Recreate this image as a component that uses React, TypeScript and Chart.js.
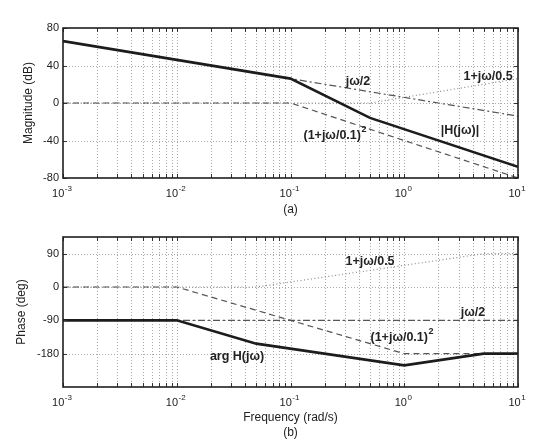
import React, { useEffect, useRef } from "react";
import { Chart, registerables } from "chart.js";

Chart.register(...registerables);

const FONT = '"Liberation Sans", Arial, Helvetica, sans-serif';
const INK = "#222";

// Frequency axis: decades shown, and minor log steps within each decade
const decades = [-3, -2, -1, 0, 1];
const minorSteps = [1, 2, 3, 4, 5, 6, 7, 8, 9];

// Magnitude asymptotes (dB)
const magTotalW = [0.001, 0.1, 0.5, 10];
const magTotalDb = [66, 26, -15.9, -68];
const magIntW = [0.001, 10];
const magIntDb = [66, -14];
const magPoleW = [0.001, 0.1, 10];
const magPoleDb = [0, 0, -80];
const magZeroW = [0.001, 0.5, 10];
const magZeroDb = [0, 0, 26];

// Phase asymptotes (deg)
const phTotalW = [0.001, 0.01, 0.05, 1, 5, 10];
const phTotalDeg = [-90, -90, -152.9, -211.5, -180, -180];
const phIntW = [0.001, 10];
const phIntDeg = [-90, -90];
const phPoleW = [0.001, 0.01, 1, 10];
const phPoleDeg = [0, 0, -180, -180];
const phZeroW = [0.001, 0.05, 5, 10];
const phZeroDeg = [0, 0, 90, 90];

// Y tick labels
const magTicks = [-80, -40, 0, 40, 80];
const phaseTicks = [-180, -90, 0, 90];

type Note = { text: string; sup?: string; w: number; v: number };

const magNotes: Note[] = [
  { text: "jω/2", w: 0.392, v: 22.4 },
  { text: "1+jω/0.5", w: 5.45, v: 27.7 },
  { text: "(1+jω/0.1)", sup: "2", w: 0.246, v: -35.2 },
  { text: "|H(jω)|", w: 3.09, v: -29.9 },
];

const phaseNotes: Note[] = [
  { text: "1+jω/0.5", w: 0.5, v: 67.5 },
  { text: "jω/2", w: 4.02, v: -70.2 },
  { text: "(1+jω/0.1)", sup: "2", w: 0.955, v: -137.7 },
  { text: "arg H(jω)", w: 0.0339, v: -189 },
];

const xGridValues: number[] = [];
decades.forEach((d) => {
  if (d === decades[decades.length - 1]) {
    xGridValues.push(Math.pow(10, d));
  } else {
    minorSteps.forEach((m) => xGridValues.push(Number((m * Math.pow(10, d)).toPrecision(3))));
  }
});

const pts = (w: number[], v: number[]) => w.map((x, i) => ({ x, y: v[i] }));

const solid = { borderColor: "#1c1c1c", borderWidth: 2.6, borderDash: [] as number[] };
const dashed = { borderColor: "#555", borderWidth: 1.2, borderDash: [6, 4] };
const dashDot = { borderColor: "#555", borderWidth: 1.2, borderDash: [7, 3, 2, 3] };
const dotted = { borderColor: "#8a8a8a", borderWidth: 1.2, borderDash: [1, 2.5] };

type Panel = {
  id: string;
  width: number;
  height: number;
  padTop: number;
  xAxisHeight: number;
  yMin: number;
  yMax: number;
  yTicks: number[];
  yTitle: string;
  yTitleX: number;
  captions: { text: string; y: number }[];
  notes: Note[];
  series: { w: number[]; v: number[]; style: any }[];
};

function drawSupText(
  ctx: CanvasRenderingContext2D,
  base: string,
  sup: string | undefined,
  cx: number,
  cy: number,
  baseFont: string,
  supFont: string,
  rise: number
) {
  ctx.font = baseFont;
  const bw = ctx.measureText(base).width;
  let sw = 0;
  if (sup) {
    ctx.font = supFont;
    sw = ctx.measureText(sup).width + 0.5;
  }
  const x0 = cx - (bw + sw) / 2;
  ctx.textAlign = "left";
  ctx.textBaseline = "middle";
  ctx.font = baseFont;
  ctx.fillText(base, x0, cy);
  if (sup) {
    ctx.font = supFont;
    ctx.fillText(sup, x0 + bw + 0.5, cy - rise);
  }
}

function makeDecor(p: Panel) {
  return {
    id: "decor_" + p.id,
    beforeDatasetsDraw(chart: any) {
      const { ctx, chartArea: a, scales } = chart;
      const xs = scales.x;
      const ys = scales.y;
      ctx.save();
      ctx.strokeStyle = "#a9a9a9";
      ctx.lineWidth = 1;
      ctx.setLineDash([1, 2]);
      xGridValues.forEach((v) => {
        const px = Math.round(xs.getPixelForValue(v)) + 0.5;
        if (px <= a.left + 1 || px >= a.right - 1) return;
        ctx.beginPath();
        ctx.moveTo(px, a.top);
        ctx.lineTo(px, a.bottom);
        ctx.stroke();
      });
      p.yTicks.forEach((v) => {
        const py = Math.round(ys.getPixelForValue(v)) + 0.5;
        if (py <= a.top + 1 || py >= a.bottom - 1) return;
        ctx.beginPath();
        ctx.moveTo(a.left, py);
        ctx.lineTo(a.right, py);
        ctx.stroke();
      });
      ctx.restore();
    },
    afterDraw(chart: any) {
      const { ctx, chartArea: a, scales } = chart;
      const xs = scales.x;
      const ys = scales.y;
      ctx.save();

      // inner tick marks
      ctx.strokeStyle = "#333";
      ctx.lineWidth = 1;
      ctx.setLineDash([]);
      xGridValues.forEach((v) => {
        const px = Math.round(xs.getPixelForValue(v)) + 0.5;
        ctx.beginPath();
        ctx.moveTo(px, a.bottom);
        ctx.lineTo(px, a.bottom - 4);
        ctx.moveTo(px, a.top);
        ctx.lineTo(px, a.top + 4);
        ctx.stroke();
      });
      p.yTicks.forEach((v) => {
        const py = Math.round(ys.getPixelForValue(v)) + 0.5;
        ctx.beginPath();
        ctx.moveTo(a.left, py);
        ctx.lineTo(a.left + 4, py);
        ctx.moveTo(a.right, py);
        ctx.lineTo(a.right - 4, py);
        ctx.stroke();
      });

      // frame
      ctx.strokeStyle = "#1e1e1e";
      ctx.lineWidth = 1.6;
      ctx.strokeRect(a.left, a.top, a.right - a.left, a.bottom - a.top);

      ctx.fillStyle = INK;

      // decade labels with superscript exponents
      decades.forEach((d) => {
        const px = xs.getPixelForValue(Math.pow(10, d));
        drawSupText(ctx, "10", String(d), px - 1, a.bottom + 16, `11px ${FONT}`, `8px ${FONT}`, 5);
      });

      // y axis title
      ctx.save();
      ctx.translate(p.yTitleX, (a.top + a.bottom) / 2);
      ctx.rotate(-Math.PI / 2);
      ctx.font = `12px ${FONT}`;
      ctx.textAlign = "center";
      ctx.textBaseline = "middle";
      ctx.fillText(p.yTitle, 0, 0);
      ctx.restore();

      // captions under the axis
      ctx.font = `12px ${FONT}`;
      ctx.textAlign = "center";
      ctx.textBaseline = "middle";
      p.captions.forEach((c) => ctx.fillText(c.text, (a.left + a.right) / 2, c.y));

      // curve annotations
      p.notes.forEach((n) => {
        const cx = xs.getPixelForValue(n.w);
        const cy = ys.getPixelForValue(n.v);
        drawSupText(ctx, n.text, n.sup, cx, cy, `bold 12.5px ${FONT}`, `bold 9px ${FONT}`, 6);
      });

      ctx.restore();
    },
  };
}

function buildChart(canvas: HTMLCanvasElement, p: Panel) {
  return new Chart(canvas, {
    type: "line",
    data: {
      datasets: p.series.map((s) => ({
        data: pts(s.w, s.v),
        borderColor: s.style.borderColor,
        borderWidth: s.style.borderWidth,
        borderDash: s.style.borderDash,
        pointRadius: 0,
        fill: false,
        tension: 0,
      })),
    },
    options: {
      animation: false,
      responsive: false,
      events: [],
      layout: { padding: { top: p.padTop, right: 42, left: 0, bottom: 0 } },
      plugins: { legend: { display: false }, tooltip: { enabled: false } },
      scales: {
        x: {
          type: "logarithmic",
          min: 0.001,
          max: 10,
          afterBuildTicks: (s: any) => {
            s.ticks = xGridValues.map((value) => ({ value }));
          },
          ticks: { display: false },
          grid: { display: false, drawTicks: false },
          border: { display: false },
          afterFit: (s: any) => {
            s.height = p.xAxisHeight;
          },
        },
        y: {
          type: "linear",
          min: p.yMin,
          max: p.yMax,
          afterBuildTicks: (s: any) => {
            s.ticks = p.yTicks.map((value) => ({ value }));
          },
          ticks: { font: { family: FONT, size: 11 }, color: INK, padding: 4 },
          grid: { display: false, drawTicks: false },
          border: { display: false },
          afterFit: (s: any) => {
            s.width = 63;
          },
        },
      },
    },
    plugins: [makeDecor(p)],
  } as any);
}

const magPanel: Panel = {
  id: "mag",
  width: 560,
  height: 220,
  padTop: 28,
  xAxisHeight: 42,
  yMin: -80,
  yMax: 80,
  yTicks: magTicks,
  yTitle: "Magnitude (dB)",
  yTitleX: 29,
  captions: [{ text: "(a)", y: 210 }],
  notes: magNotes,
  series: [
    { w: magTotalW, v: magTotalDb, style: solid },
    { w: magIntW, v: magIntDb, style: dashDot },
    { w: magPoleW, v: magPoleDb, style: dashed },
    { w: magZeroW, v: magZeroDb, style: dotted },
  ],
};

const phasePanel: Panel = {
  id: "phase",
  width: 560,
  height: 225,
  padTop: 17,
  xAxisHeight: 58,
  yMin: -270,
  yMax: 135,
  yTicks: phaseTicks,
  yTitle: "Phase (deg)",
  yTitleX: 22,
  captions: [
    { text: "Frequency (rad/s)", y: 198 },
    { text: "(b)", y: 213 },
  ],
  notes: phaseNotes,
  series: [
    { w: phTotalW, v: phTotalDeg, style: solid },
    { w: phIntW, v: phIntDeg, style: dashDot },
    { w: phPoleW, v: phPoleDeg, style: dashed },
    { w: phZeroW, v: phZeroDeg, style: dotted },
  ],
};

function PanelCanvas({ panel, top }: { panel: Panel; top: number }) {
  const ref = useRef<HTMLCanvasElement | null>(null);
  useEffect(() => {
    if (!ref.current) return;
    const chart = buildChart(ref.current, panel);
    return () => chart.destroy();
  }, [panel]);
  return (
    <canvas
      ref={ref}
      width={panel.width}
      height={panel.height}
      style={{ position: "absolute", left: 0, top, width: panel.width, height: panel.height }}
    />
  );
}

export default function App() {
  return (
    <div style={{ position: "absolute", left: 0, top: 0, width: 560, height: 445, background: "#fff" }}>
      <PanelCanvas panel={magPanel} top={0} />
      <PanelCanvas panel={phasePanel} top={220} />
    </div>
  );
}
